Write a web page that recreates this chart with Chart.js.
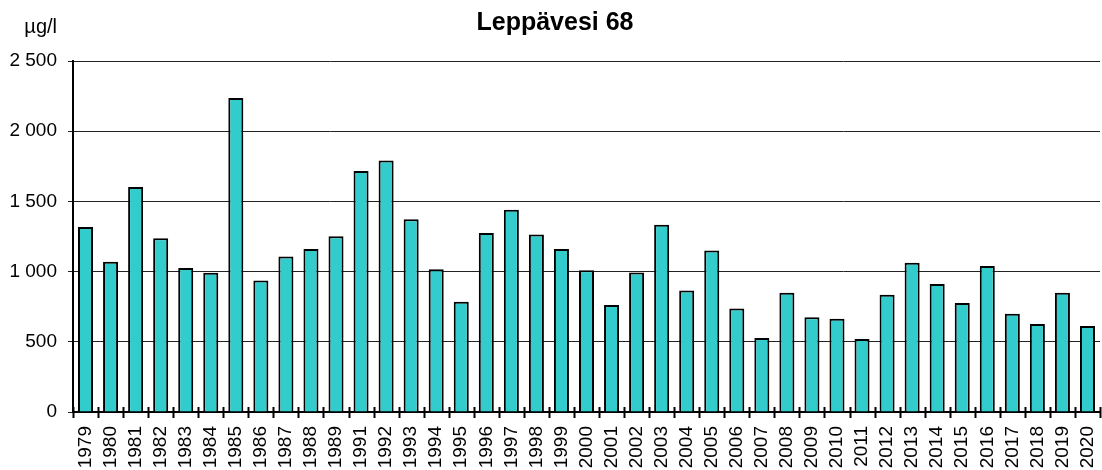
<!DOCTYPE html>
<html>
<head>
<meta charset="utf-8">
<script src="https://cdn.jsdelivr.net/npm/chart.js@4"></script>
<style>
    html, body { margin: 0; padding: 0; background: #fff; }
    #wrap { width: 1102px; height: 470px; }
</style>
</head>
<body>
<div id="wrap"><canvas id="chart" width="1102" height="470"></canvas></div>
<script>
const chartTitle = "Leppävesi 68";
const unitLabel = "µg/l";
const years = [
    "1979", "1980", "1981", "1982", "1983", "1984", "1985", "1986", "1987", "1988", "1989",
    "1991", "1992", "1993", "1994", "1995", "1996", "1997", "1998", "1999", "2000",
    "2001", "2002", "2003", "2004", "2005", "2006", "2007", "2008", "2009", "2010",
    "2011", "2012", "2013", "2014", "2015", "2016", "2017", "2018", "2019", "2020",
];
const values = [
    1318, 1071, 1603, 1237, 1026, 992, 2236, 937, 1108, 1161, 1251,
    1716, 1792, 1372, 1016, 786, 1275, 1441, 1265, 1161, 1009,
    762, 994, 1334, 866, 1151, 738, 527, 850, 674, 665,
    520, 835, 1063, 912, 776, 1040, 700, 627, 850, 613,
];
const yMin = 0;
const yMax = 2500;
const yStep = 500;

(function () {
    const FONT = '"Liberation Sans", Arial, sans-serif';

    function formatThousands(v) {
        return String(v).replace(/\B(?=(\d{3})+(?!\d))/g, " ");
    }

    const textPlugin = {
        id: "textPlugin",
        afterDraw(chart) {
            const ctx = chart.ctx;
            const xs = chart.scales.x;
            const area = chart.chartArea;
            ctx.save();
            ctx.fillStyle = "#000";

            // title
            ctx.font = "bold 25px " + FONT;
            ctx.textAlign = "center";
            ctx.textBaseline = "middle";
            ctx.fillText(chartTitle, 555, 23);

            // unit label
            ctx.font = "20px " + FONT;
            ctx.textAlign = "right";
            ctx.fillText(unitLabel, 57, 27);

            // rotated year labels, reading bottom to top
            ctx.font = "19px " + FONT;
            years.forEach((y, i) => {
                const px = xs.getPixelForValue(i);
                ctx.save();
                ctx.translate(px, area.bottom + 14);
                ctx.rotate(-Math.PI / 2);
                ctx.textAlign = "right";
                ctx.textBaseline = "middle";
                ctx.fillText(y, 0, 0);
                ctx.restore();
            });

            // tick marks crossing the x axis between categories
            ctx.strokeStyle = "#000";
            ctx.lineWidth = 2;
            for (let i = 0; i <= years.length; i++) {
                const px = Math.round(xs.getPixelForValue(i - 0.5)) + 0.5;
                ctx.beginPath();
                ctx.moveTo(px, area.bottom - 5);
                ctx.lineTo(px, area.bottom + 6);
                ctx.stroke();
            }
            ctx.restore();
        },
    };

    new Chart(document.getElementById("chart"), {
        type: "bar",
        data: {
            labels: years,
            datasets: [
                {
                    data: values,
                    backgroundColor: "#33CCCC",
                    borderColor: "#000",
                    borderWidth: 2,
                    categoryPercentage: 1,
                    barPercentage: 0.6,
                },
            ],
        },
        options: {
            responsive: false,
            animation: false,
            layout: { padding: { top: 61, right: 2, left: 0, bottom: 0 } },
            plugins: {
                legend: { display: false },
                tooltip: { enabled: false },
            },
            scales: {
                x: {
                    offset: true,
                    grid: { display: false },
                    border: { color: "#000", width: 2 },
                    ticks: { display: false },
                    afterFit(scale) { scale.height = 58; },
                },
                y: {
                    min: yMin,
                    max: yMax,
                    ticks: {
                        stepSize: yStep,
                        padding: 11,
                        color: "#000",
                        font: { family: FONT, size: 19 },
                        callback: (v) => formatThousands(v),
                    },
                    grid: {
                        color: "#222",
                        lineWidth: 1,
                        tickLength: 5,
                    },
                    border: { color: "#000", width: 2 },
                    afterFit(scale) { scale.width = 73; },
                },
            },
        },
        plugins: [textPlugin],
    });
})();
</script>
</body>
</html>
